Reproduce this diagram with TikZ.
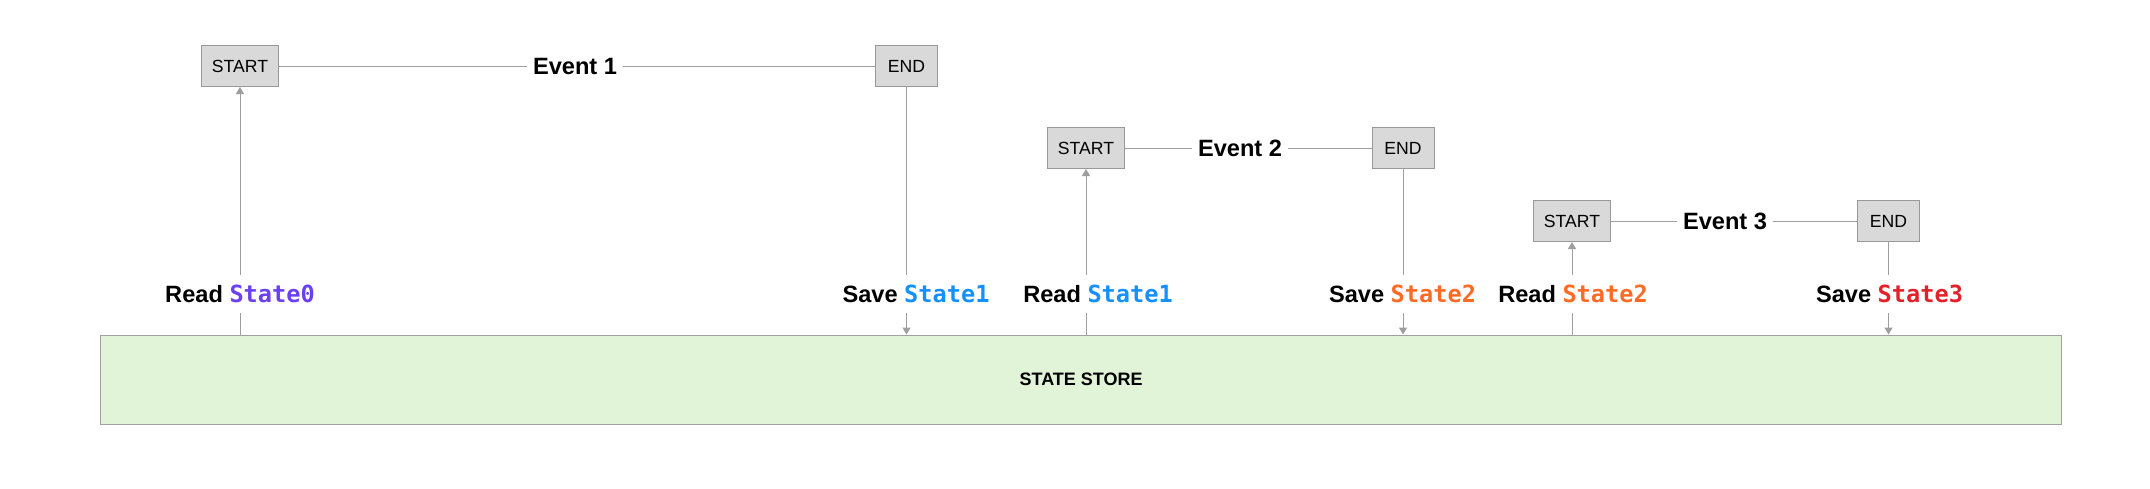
\documentclass[tikz,border=0pt]{standalone}
\usepackage{fontspec}
\setmainfont{Liberation Sans}
\newfontfamily\codefont{DejaVu Sans Mono}
\usetikzlibrary{arrows.meta}
\definecolor{boxfill}{HTML}{D9D9D9}
\definecolor{boxline}{HTML}{999999}
\definecolor{storefill}{HTML}{E1F4D8}
\definecolor{storeline}{HTML}{A0A0A0}
\definecolor{conn}{HTML}{9E9E9E}
\definecolor{stz}{HTML}{6B3FF5}
\definecolor{sto}{HTML}{1490FF}
\definecolor{stt}{HTML}{FF6A24}
\definecolor{sth}{HTML}{E2222A}
\newcommand{\stname}[2]{{\codefont\bfseries\color{#1}#2}}
\begin{document}
\begin{tikzpicture}[x=0.5pt,y=-0.5pt,
  evbox/.style={draw=boxline, fill=boxfill, line width=0.5pt, minimum height=20.5pt, inner sep=0pt, font=\fontsize{8.8}{10}\selectfont},
  startbox/.style={evbox, minimum width=38.5pt},
  endbox/.style={evbox, minimum width=31pt},
  evlabel/.style={fill=white, inner sep=3pt, font=\fontsize{11.8}{14}\selectfont\bfseries},
  stlabel/.style={inner sep=0pt, minimum height=19pt, font=\fontsize{11.8}{14}\selectfont\bfseries},
  line/.style={draw=conn, line width=0.5pt},
  arr/.style={line, -{Triangle[width=4pt,length=3.5pt]}}
]
\useasboundingbox (0,0) rectangle (2150,488);

% state store
\node[draw=storeline, fill=storefill, line width=0.6pt, minimum width=980.5pt, minimum height=44.5pt, anchor=north west, inner sep=0pt, font=\fontsize{9}{11}\selectfont\bfseries] (store) at (100,334.5) {STATE STORE};

% event 1
\node[startbox] (s1) at (240,66) {START};
\node[endbox] (e1) at (906.5,66) {END};
\node[evlabel] (ev1) at (575,66) {Event 1};
\draw[line] (s1) -- (ev1) -- (e1);

% event 2
\node[startbox] (s2) at (1086,148) {START};
\node[endbox] (e2) at (1403,148) {END};
\node[evlabel] (ev2) at (1240,148) {Event 2};
\draw[line] (s2) -- (ev2) -- (e2);

% event 3
\node[startbox] (s3) at (1572,221) {START};
\node[endbox] (e3) at (1888.5,221) {END};
\node[evlabel] (ev3) at (1725,221) {Event 3};
\draw[line] (s3) -- (ev3) -- (e3);

% state labels
\node[stlabel] (r0) at (240,294) {Read \stname{stz}{State0}};
\node[stlabel] (sv1) at (916,294) {Save \stname{sto}{State1}};
\node[stlabel] (r1) at (1098,294) {Read \stname{sto}{State1}};
\node[stlabel] (sv2) at (1402.5,294) {Save \stname{stt}{State2}};
\node[stlabel] (r2) at (1573,294) {Read \stname{stt}{State2}};
\node[stlabel] (sv3) at (1889.5,294) {Save \stname{sth}{State3}};

% reads: store -> start
\draw[line] (store.north -| s1.south) -- (r0.south -| s1.south);
\draw[arr] (r0.north -| s1.south) -- (s1.south);
\draw[line] (store.north -| s2.south) -- (r1.south -| s2.south);
\draw[arr] (r1.north -| s2.south) -- (s2.south);
\draw[line] (store.north -| s3.south) -- (r2.south -| s3.south);
\draw[arr] (r2.north -| s3.south) -- (s3.south);

% saves: end -> store
\draw[line] (e1.south) -- (sv1.north -| e1.south);
\draw[arr] (sv1.south -| e1.south) -- (store.north -| e1.south);
\draw[line] (e2.south) -- (sv2.north -| e2.south);
\draw[arr] (sv2.south -| e2.south) -- (store.north -| e2.south);
\draw[line] (e3.south) -- (sv3.north -| e3.south);
\draw[arr] (sv3.south -| e3.south) -- (store.north -| e3.south);
\end{tikzpicture}
\end{document}
